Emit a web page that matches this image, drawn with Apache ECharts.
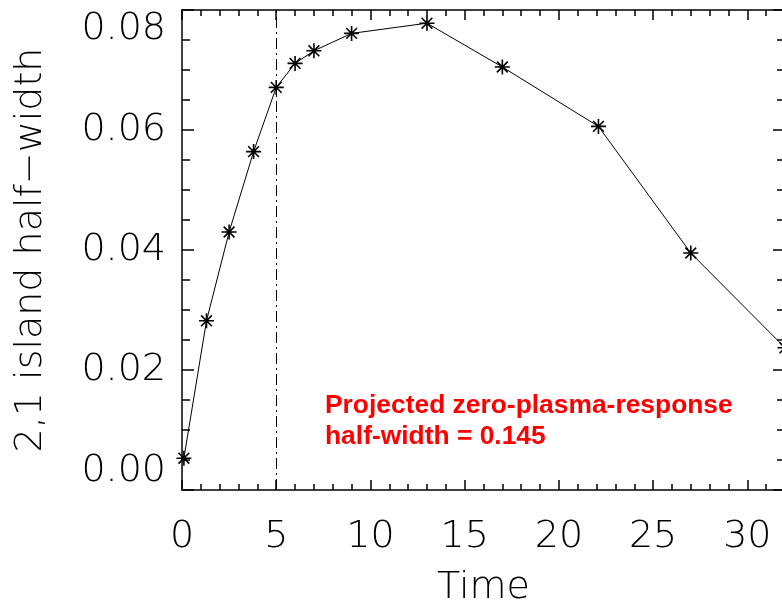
<!DOCTYPE html>
<html>
<head>
<meta charset="utf-8">
<script src="https://cdn.jsdelivr.net/npm/echarts@6/dist/echarts.min.js"></script>
<style>
  html, body { margin: 0; padding: 0; background: #fff; }
  #chart { width: 782px; height: 601px; }
</style>
</head>
<body>
<div id="chart"></div>
<script>
// Island half-width history
const times = [0.1, 1.3, 2.5, 3.8, 5.0, 6.0, 7.0, 9.0, 13.0, 17.0, 22.1, 27.0, 32.0];
const halfWidths = [0.0053, 0.0282, 0.0430, 0.0564, 0.0671, 0.0711, 0.0732, 0.0761, 0.0778, 0.0705, 0.0606, 0.0395, 0.0237];
const markerTime = 5;
const xRange = [0, 32];
const yRange = [0, 0.08];
const xTitle = 'Time';
const yTitle = '2,1 island half\u2212width';
const noteLines = ['Projected zero-plasma-response', 'half-width = 0.145'];

const axisFont = { fontFamily: '"DejaVu Sans"', fontSize: 38, fontWeight: 200, color: '#000' };
const axisLine = { show: true, onZero: false, lineStyle: { color: '#000', width: 1.5 } };

// asterisk marker: vertical, horizontal and two diagonal strokes
const asterisk = 'path://M0,-1L0,1M-1,0L1,0M-0.72,-0.72L0.72,0.72M-0.72,0.72L0.72,-0.72';

const chart = echarts.init(document.getElementById('chart'), null, { renderer: 'canvas' });

const xCommon = {
  type: 'value', min: xRange[0], max: xRange[1], interval: 5,
  axisLine: axisLine,
  axisTick: { inside: true, length: 10, lineStyle: { color: '#000', width: 1.5 } },
  minorTick: { show: true, splitNumber: 5, length: 6, lineStyle: { color: '#000', width: 1.5 } },
  splitLine: { show: false }
};
const yCommon = {
  type: 'value', min: yRange[0], max: yRange[1], interval: 0.02,
  axisLine: axisLine,
  axisTick: { inside: true, length: 12, lineStyle: { color: '#000', width: 1.5 } },
  minorTick: { show: true, splitNumber: 4, length: 8, lineStyle: { color: '#000', width: 1.5 } },
  splitLine: { show: false }
};

chart.setOption({
  animation: false,
  backgroundColor: '#fff',
  grid: { left: 182, top: 10, width: 603, height: 480, containLabel: false, outerBoundsMode: 'none' },
  xAxis: [
    Object.assign({}, xCommon, {
      position: 'bottom',
      name: xTitle, nameLocation: 'middle', nameGap: 79,
      nameTextStyle: axisFont,
      axisLabel: Object.assign({ margin: 28 }, axisFont)
    }),
    Object.assign({}, xCommon, { position: 'top', axisLabel: { show: false } })
  ],
  yAxis: [
    Object.assign({}, yCommon, {
      position: 'left',
      name: yTitle, nameLocation: 'middle', nameGap: 132, nameRotate: 90,
      nameTextStyle: axisFont,
      axisLabel: Object.assign({
        margin: 16,
        formatter: v => v.toFixed(2),
        verticalAlignMinLabel: 'bottom',
        verticalAlignMaxLabel: 'top'
      }, axisFont)
    }),
    Object.assign({}, yCommon, { position: 'right', axisLabel: { show: false } })
  ],
  series: [{
    type: 'line',
    data: times.map((t, i) => [t, halfWidths[i]]),
    symbol: asterisk,
    symbolSize: 15,
    showAllSymbol: true,
    lineStyle: { color: '#000', width: 1 },
    itemStyle: { color: 'rgba(0,0,0,0)', borderColor: '#000', borderWidth: 1.6 },
    emphasis: { disabled: true },
    markLine: {
      silent: true,
      symbol: 'none',
      label: { show: false },
      lineStyle: { color: '#000', width: 1, type: [11, 4, 2, 4] },
      data: [{ xAxis: markerTime }]
    },
    z: 3
  }],
  graphic: [{
    type: 'text',
    left: 325, top: 390,
    style: {
      text: noteLines.join('\n'),
      fill: '#ff0000',
      font: 'bold 26.4px "Liberation Sans", Arial, sans-serif',
      lineHeight: 31
    }
  }]
});
</script>
</body>
</html>
